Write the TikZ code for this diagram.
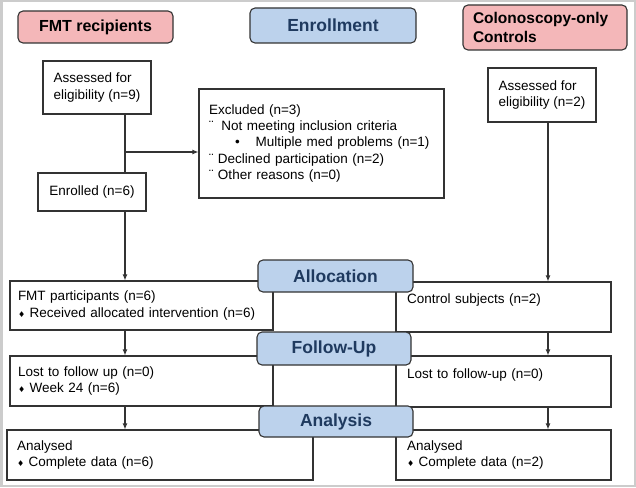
\documentclass[tikz,border=0pt]{standalone}
\usepackage{fontspec}
\setmainfont{Liberation Sans}
\newfontfamily\symfont{DejaVu Sans}
\usetikzlibrary{arrows.meta}
\definecolor{hdrpink}{HTML}{F4B7B9}
\definecolor{hdrblue}{HTML}{BCD2EC}
\definecolor{hdrtext}{HTML}{1F3A5F}
\definecolor{boxline}{HTML}{333333}
\newcommand\dia{{\symfont\fontsize{8}{8}\selectfont\char"2666}\ }
\tikzset{
  box/.style={draw=boxline, line width=1.1pt, fill=white, inner xsep=8pt,
      font=\fontsize{13.5}{16.2}\selectfont},
  flowbox/.style={box, align=left, text width=#1},
  header/.style={draw=boxline, line width=1.1pt, rounded corners=5pt, inner xsep=10pt},
  stagehdr/.style={header, fill=hdrblue, text=hdrtext, font=\bfseries\fontsize{17.5}{20}\selectfont},
  armhdr/.style={header, fill=hdrpink, font=\bfseries\fontsize{16}{19}\selectfont},
  link/.style={draw=boxline, line width=1.1pt},
  arrow/.style={link, -{Latex[length=6pt,width=5pt]}},
}

\begin{document}
\begin{tikzpicture}[x=1pt, y=-1pt]
      \useasboundingbox (0,0) rectangle (636,487);
      \draw [gray!40, line width=2.5pt] (1.25,1.25) rectangle (634.75,485.75);

      % enrollment
      \node [armhdr, minimum width=155pt, minimum height=32pt] (fmthdr) at (95.5,27) {FMT recipients};
      \node [stagehdr, minimum width=166pt, minimum height=35pt] (enrhdr) at (333,25.5) {Enrollment};
      \node [armhdr, minimum width=164pt, minimum height=45pt, align=left, text width=144pt,
        font=\bfseries\fontsize{15.5}{19}\selectfont] (ctlhdr) at (545,27.5) {Colonoscopy-only\\Controls};

      \node [box, minimum width=108pt, minimum height=53pt, align=left] (assessL) at (97,87.5)
      {Assessed for\\eligibility (n=9)};
      \node [box, minimum width=108pt, minimum height=38pt] (enrolled) at (92,192) {Enrolled (n=6)};
      \node [flowbox=225pt, inner xsep=10pt, minimum height=109pt] (excl) at (321.5,143.5)
      {Excluded (n=3)\\
        ¨\hspace{8pt}Not meeting inclusion criteria\\
        \hspace{26pt}•\hspace{16pt}Multiple med problems (n=1)\\
        ¨ Declined participation (n=2)\\
        ¨ Other reasons (n=0)};
      \node [box, minimum width=108pt, minimum height=54pt, align=left] (assessR) at (542,95)
      {Assessed for\\eligibility (n=2)};

      % allocation, follow-up, analysis
      \node [flowbox=247pt, minimum height=49pt] (fmtpart) at (141.5,305.5)
      {FMT participants (n=6)\\\dia Received allocated intervention (n=6)};
      \node [flowbox=247pt, minimum height=50pt] (lostL) at (141.5,381)
      {Lost to follow up (n=0)\\\dia Week 24 (n=6)};
      \node [flowbox=286pt, inner xsep=10pt, minimum height=50pt] (analL) at (160,455)
      {Analysed\\\dia Complete data (n=6)};

      \node [flowbox=193pt, inner xsep=11pt, minimum height=50pt] (ctrl) at (503.5,307)
      {Control subjects (n=2)\\\mbox{}};
      \node [flowbox=193pt, inner xsep=11pt, minimum height=51pt] (lostR) at (503.5,381.5)
      {Lost to follow-up (n=0)\\\mbox{}};
      \node [flowbox=193pt, inner xsep=11pt, minimum height=50pt] (analR) at (503.5,455)
      {Analysed\\\dia Complete data (n=2)};

      \node [stagehdr, minimum width=155pt, minimum height=32pt] (allochdr) at (335.5,276) {Allocation};
      \node [stagehdr, minimum width=154pt, minimum height=33pt] (fuhdr) at (334,348.5) {Follow-Up};
      \node [stagehdr, minimum width=154pt, minimum height=31pt] (anahdr) at (336,421.5) {Analysis};

      % connectors
      \coordinate (colL) at (125,0);
      \coordinate (colR) at (548,0);
      \coordinate (split) at (125,152);
      \draw [link] (assessL.south -| colL) -- (enrolled.north -| colL);
      \draw [arrow] (split) -- (split -| excl.west);
      \draw [arrow] (enrolled.south -| colL) -- (fmtpart.north -| colL);
      \draw [arrow] (fmtpart.south -| colL) -- (lostL.north -| colL);
      \draw [arrow] (lostL.south -| colL) -- (analL.north -| colL);
      \draw [arrow] (assessR.south -| colR) -- (ctrl.north -| colR);
      \draw [arrow] (ctrl.south -| colR) -- (lostR.north -| colR);
      \draw [arrow] (lostR.south -| colR) -- (analR.north -| colR);
    \end{tikzpicture}
\end{document}
